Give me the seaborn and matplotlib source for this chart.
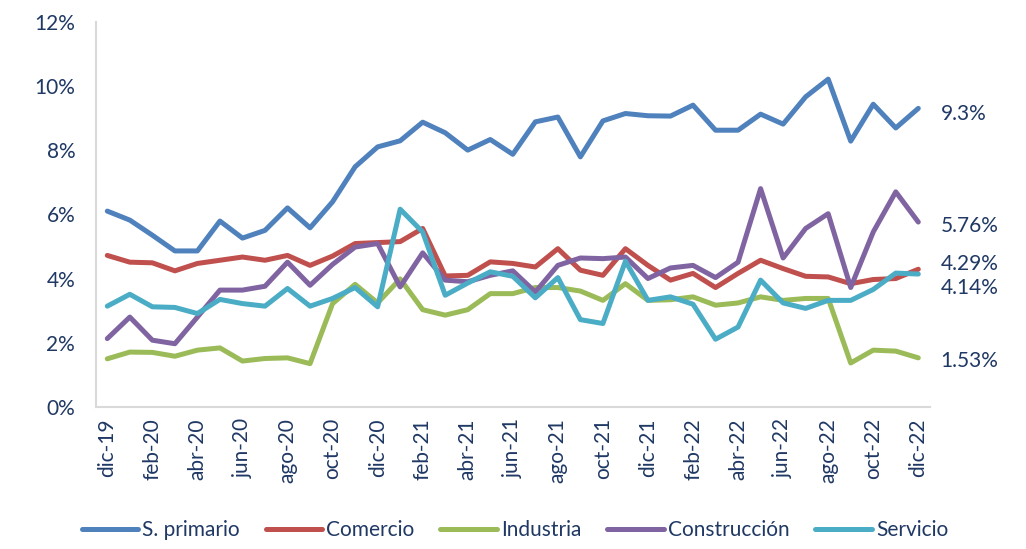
import seaborn as sns
import matplotlib.pyplot as plt
import pandas as pd
import numpy as np

# months dic-19 .. dic-22
meses = ["ene", "feb", "mar", "abr", "may", "jun", "jul", "ago", "sep", "oct", "nov", "dic"]
fechas = ["dic-19"] + [m + "-" + a for a in ["20", "21", "22"] for m in meses]

primario = [6.10, 5.82, 5.35, 4.86, 4.86, 5.79, 5.26, 5.50, 6.20, 5.58, 6.39, 7.48,
            8.10, 8.29, 8.87, 8.54, 8.00, 8.33, 7.87, 8.88, 9.03, 7.79, 8.91, 9.14,
            9.07, 9.06, 9.40, 8.62, 8.62, 9.12, 8.81, 9.66, 10.21, 8.28, 9.43, 8.69, 9.30]
comercio = [4.72, 4.51, 4.49, 4.24, 4.47, 4.57, 4.67, 4.57, 4.72, 4.41, 4.70, 5.09,
            5.12, 5.15, 5.56, 4.08, 4.10, 4.52, 4.47, 4.36, 4.93, 4.26, 4.10, 4.93,
            4.41, 3.95, 4.16, 3.72, 4.16, 4.57, 4.31, 4.07, 4.05, 3.84, 3.97, 4.00, 4.29]
industria = [1.50, 1.71, 1.70, 1.58, 1.77, 1.84, 1.43, 1.51, 1.53, 1.35, 3.22, 3.82,
             3.24, 3.99, 3.03, 2.86, 3.03, 3.53, 3.53, 3.72, 3.72, 3.61, 3.32, 3.84,
             3.32, 3.34, 3.43, 3.17, 3.24, 3.43, 3.32, 3.38, 3.38, 1.37, 1.77, 1.74, 1.53]
construccion = [2.13, 2.80, 2.08, 1.97, 2.80, 3.64, 3.64, 3.76, 4.51, 3.79, 4.44, 4.98,
                5.09, 3.74, 4.80, 3.95, 3.90, 4.10, 4.24, 3.58, 4.41, 4.64, 4.62, 4.67,
                4.00, 4.33, 4.41, 4.03, 4.51, 6.80, 4.64, 5.56, 6.02, 3.72, 5.45, 6.70, 5.76]
servicio = [3.14, 3.51, 3.12, 3.10, 2.91, 3.35, 3.22, 3.14, 3.69, 3.14, 3.38, 3.72,
            3.12, 6.16, 5.45, 3.48, 3.86, 4.21, 4.07, 3.40, 4.03, 2.72, 2.60, 4.54,
            3.32, 3.43, 3.20, 2.11, 2.49, 3.95, 3.24, 3.07, 3.32, 3.32, 3.66, 4.17, 4.14]

series = ["S. primario", "Comercio", "Industria", "Construcción", "Servicio"]
valores = [primario, comercio, industria, construccion, servicio]
colores = ["#4F81BD", "#C0504D", "#9BBB59", "#8064A2", "#4BACC6"]
etiquetas = ["9.3%", "4.29%", "1.53%", "5.76%", "4.14%"]
desplaz = [-4, 4, -2, -3, -10]  # vertical nudge of end labels, points

rows = []
for nombre, vals in zip(series, valores):
    for i, v in enumerate(vals):
        rows.append({"idx": i, "valor": v / 100, "serie": nombre})
df = pd.DataFrame(rows)

sns.set_theme(style="white")
plt.rcParams["font.family"] = ["Lato", "DejaVu Sans"]
texto = "#1F3864"
gris = "#D9D9D9"
fs = 15

fig = plt.figure(figsize=(10.26, 5.49), dpi=100)
ax = fig.add_axes([0.0936, 0.2587, 0.8124, 0.7018])

sns.lineplot(data=df, x="idx", y="valor", hue="serie", hue_order=series,
             palette=colores, linewidth=3.6, ax=ax, legend=True,
             solid_capstyle="round", solid_joinstyle="round")

ax.set_xlim(-0.5, 36.5)
ax.set_ylim(0, 0.12)
ax.set_yticks(np.arange(0, 0.121, 0.02))
ax.set_yticklabels([f"{int(round(t * 100))}%" for t in np.arange(0, 0.121, 0.02)],
                   fontsize=fs, color=texto)
ax.set_xticks(range(0, 37, 2))
ax.set_xticklabels(fechas[::2], rotation=90, fontsize=fs, color=texto)
ax.set_xticks(np.arange(-0.5, 36, 2), minor=True)
ax.tick_params(axis="x", which="major", length=0, pad=8)
ax.tick_params(axis="x", which="minor", length=6, width=1.5, color=gris, direction="out")
ax.tick_params(axis="y", length=6, width=1.5, color=gris, direction="out", pad=9)
ax.set_xlabel("")
ax.set_ylabel("")

for s in ["top", "right"]:
    ax.spines[s].set_visible(False)
for s in ["left", "bottom"]:
    ax.spines[s].set_color(gris)
    ax.spines[s].set_linewidth(1.5)

for vals, lab, dy in zip(valores, etiquetas, desplaz):
    ax.annotate(lab, xy=(36, vals[-1] / 100), xytext=(16, dy),
                textcoords="offset points", va="center", ha="left",
                fontsize=fs, color=texto, annotation_clip=False)

handles, labels = ax.get_legend_handles_labels()
ax.legend(handles, labels, loc="center", bbox_to_anchor=(0.5025, -0.32),
          bbox_transform=ax.transAxes, ncol=5, frameon=False, fontsize=fs,
          handlelength=2.7, handletextpad=0.2, columnspacing=1.25, labelcolor=texto)

fig.savefig("out.png", dpi=100)
